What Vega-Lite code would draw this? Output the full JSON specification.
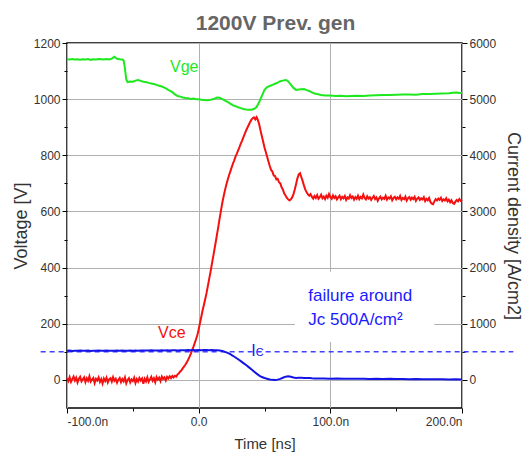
{
 "$schema": "https://vega.github.io/schema/vega-lite/v6.json",
 "width": 395,
 "height": 365,
 "autosize": {"type": "none"},
 "padding": {"left": 67, "top": 43, "right": 62, "bottom": 49},
 "background": "white",
 "config": {
  "view": {"stroke": "#000", "strokeWidth": 1.5},
  "font": "Liberation Sans",
  "axis": {"domain": false, "labelColor": "#333", "labelFontSize": 12, "labelFont": "Liberation Sans", "titleColor": "#333", "titleFont": "Liberation Sans", "titleFontWeight": "normal", "tickColor": "#000", "gridColor": "#b0b0b0", "gridWidth": 1}
 },
 "title": {"text": "1200V Prev. gen", "fontSize": 21, "fontWeight": "bold", "color": "#666", "anchor": "middle", "frame": "group", "offset": -14, "baseline": "alphabetic", "dx": 11, "font": "Liberation Sans"},
 "datasets": {
  "vge": [
   {"t":-100,"v":1142},{"t":-98,"v":1141},{"t":-96,"v":1143},{"t":-94,"v":1141},{"t":-92,"v":1142},{"t":-90,"v":1140},{"t":-88,"v":1142},{"t":-86,"v":1141},{"t":-84,"v":1143},{"t":-82,"v":1140},{"t":-80,"v":1142},{"t":-78,"v":1141},{"t":-76,"v":1143},{"t":-74,"v":1142},{"t":-72,"v":1141},{"t":-70,"v":1143},{"t":-68,"v":1141},{"t":-66,"v":1144},{"t":-65,"v":1148},{"t":-64,"v":1151},{"t":-63,"v":1147},{"t":-62,"v":1144},{"t":-60,"v":1142},{"t":-58,"v":1141},{"t":-57,"v":1138},{"t":-56,"v":1110},{"t":-55,"v":1070},{"t":-54,"v":1061},{"t":-52,"v":1063},{"t":-50,"v":1062},{"t":-48,"v":1066},{"t":-46,"v":1068},{"t":-44,"v":1065},{"t":-42,"v":1062},{"t":-40,"v":1061},{"t":-38,"v":1058},{"t":-36,"v":1056},{"t":-34,"v":1054},{"t":-32,"v":1051},{"t":-30,"v":1048},{"t":-28,"v":1045},{"t":-26,"v":1041},{"t":-24,"v":1036},{"t":-22,"v":1030},{"t":-20,"v":1025},{"t":-18,"v":1017},{"t":-16,"v":1011},{"t":-14,"v":1009},{"t":-12,"v":1006},{"t":-10,"v":1004},{"t":-8,"v":1003},{"t":-6,"v":1001},{"t":-4,"v":1002},{"t":-2,"v":1000},{"t":0,"v":1000},{"t":2,"v":998},{"t":4,"v":997},{"t":6,"v":996},{"t":8,"v":997},{"t":10,"v":999},{"t":12,"v":1002},{"t":14,"v":1006},{"t":16,"v":1005},{"t":18,"v":1000},{"t":20,"v":995},{"t":22,"v":990},{"t":24,"v":984},{"t":26,"v":978},{"t":28,"v":975},{"t":30,"v":971},{"t":32,"v":968},{"t":34,"v":965},{"t":36,"v":963},{"t":38,"v":962},{"t":40,"v":962},{"t":42,"v":965},{"t":44,"v":972},{"t":46,"v":990},{"t":48,"v":1012},{"t":50,"v":1033},{"t":52,"v":1043},{"t":54,"v":1047},{"t":56,"v":1051},{"t":58,"v":1055},{"t":60,"v":1059},{"t":62,"v":1064},{"t":64,"v":1066},{"t":66,"v":1068},{"t":67,"v":1067},{"t":68,"v":1063},{"t":70,"v":1052},{"t":72,"v":1040},{"t":74,"v":1033},{"t":76,"v":1034},{"t":78,"v":1035},{"t":80,"v":1036},{"t":82,"v":1032},{"t":84,"v":1029},{"t":86,"v":1024},{"t":88,"v":1020},{"t":90,"v":1018},{"t":93,"v":1015},{"t":96,"v":1013},{"t":100,"v":1013},{"t":104,"v":1011},{"t":108,"v":1012},{"t":112,"v":1010},{"t":116,"v":1011},{"t":120,"v":1012},{"t":125,"v":1011},{"t":130,"v":1013},{"t":135,"v":1014},{"t":140,"v":1015},{"t":145,"v":1015},{"t":150,"v":1016},{"t":155,"v":1017},{"t":160,"v":1017},{"t":165,"v":1016},{"t":170,"v":1018},{"t":175,"v":1018},{"t":180,"v":1019},{"t":185,"v":1020},{"t":190,"v":1021},{"t":193,"v":1023},{"t":196,"v":1024},{"t":198,"v":1022},{"t":200,"v":1023}
  ],
  "vce": [
   {"t":-100,"v":6},{"t":-99,"v":-4},{"t":-98,"v":10},{"t":-97,"v":-7},{"t":-96,"v":3},{"t":-95,"v":12},{"t":-94,"v":-2},{"t":-93,"v":8},{"t":-92,"v":-9},{"t":-91,"v":4},{"t":-90,"v":11},{"t":-89,"v":-5},{"t":-88,"v":2},{"t":-87,"v":9},{"t":-86,"v":-8},{"t":-85,"v":6},{"t":-84,"v":-3},{"t":-83,"v":13},{"t":-82,"v":-6},{"t":-81,"v":1},{"t":-80,"v":7},{"t":-79,"v":-11},{"t":-78,"v":4},{"t":-77,"v":-2},{"t":-76,"v":9},{"t":-75,"v":-7},{"t":-74,"v":3},{"t":-73,"v":-13},{"t":-72,"v":5},{"t":-71,"v":-4},{"t":-70,"v":8},{"t":-69,"v":-9},{"t":-68,"v":2},{"t":-67,"v":6},{"t":-66,"v":-6},{"t":-65,"v":10},{"t":-64,"v":-3},{"t":-63,"v":4},{"t":-62,"v":-10},{"t":-61,"v":1},{"t":-60,"v":7},{"t":-59,"v":-8},{"t":-58,"v":3},{"t":-57,"v":-5},{"t":-56,"v":9},{"t":-55,"v":-12},{"t":-54,"v":0},{"t":-53,"v":6},{"t":-52,"v":-9},{"t":-51,"v":2},{"t":-50,"v":-4},{"t":-49,"v":8},{"t":-48,"v":-11},{"t":-47,"v":3},{"t":-46,"v":-6},{"t":-45,"v":7},{"t":-44,"v":-2},{"t":-43,"v":5},{"t":-42,"v":-14},{"t":-41,"v":4},{"t":-40,"v":-5},{"t":-39,"v":9},{"t":-38,"v":-7},{"t":-37,"v":2},{"t":-36,"v":11},{"t":-35,"v":-3},{"t":-34,"v":6},{"t":-33,"v":-8},{"t":-32,"v":10},{"t":-31,"v":1},{"t":-30,"v":8},{"t":-29,"v":-4},{"t":-28,"v":12},{"t":-27,"v":3},{"t":-26,"v":9},{"t":-25,"v":-2},{"t":-24,"v":11},{"t":-23,"v":5},{"t":-22,"v":13},{"t":-21,"v":6},{"t":-20,"v":14},{"t":-19,"v":9},{"t":-18,"v":15},{"t":-17,"v":12},{"t":-16,"v":20},{"t":-15,"v":24},{"t":-14,"v":30},{"t":-13,"v":35},{"t":-12,"v":42},{"t":-11,"v":48},{"t":-10,"v":55},{"t":-9,"v":63},{"t":-8,"v":72},{"t":-7,"v":82},{"t":-6,"v":93},{"t":-5,"v":106},{"t":-4,"v":118},{"t":-3,"v":131},{"t":-2,"v":145},{"t":-1,"v":160},{"t":0,"v":180},{"t":1,"v":203},{"t":2,"v":225},{"t":3,"v":248},{"t":4,"v":268},{"t":5,"v":288},{"t":6,"v":310},{"t":7,"v":335},{"t":8,"v":360},{"t":9,"v":385},{"t":10,"v":412},{"t":11,"v":438},{"t":12,"v":465},{"t":13,"v":492},{"t":14,"v":520},{"t":15,"v":548},{"t":16,"v":577},{"t":17,"v":605},{"t":18,"v":632},{"t":19,"v":655},{"t":20,"v":676},{"t":21,"v":695},{"t":22,"v":712},{"t":23,"v":728},{"t":24,"v":742},{"t":25,"v":756},{"t":26,"v":770},{"t":27,"v":782},{"t":28,"v":795},{"t":29,"v":806},{"t":30,"v":818},{"t":31,"v":829},{"t":32,"v":842},{"t":33,"v":852},{"t":34,"v":865},{"t":35,"v":876},{"t":36,"v":888},{"t":37,"v":898},{"t":38,"v":908},{"t":39,"v":918},{"t":40,"v":926},{"t":41,"v":932},{"t":42,"v":935},{"t":43,"v":928},{"t":44,"v":936},{"t":45,"v":925},{"t":46,"v":910},{"t":47,"v":888},{"t":48,"v":868},{"t":49,"v":848},{"t":50,"v":828},{"t":51,"v":812},{"t":52,"v":795},{"t":53,"v":778},{"t":54,"v":762},{"t":55,"v":748},{"t":56,"v":742},{"t":57,"v":728},{"t":58,"v":726},{"t":59,"v":714},{"t":60,"v":716},{"t":61,"v":704},{"t":62,"v":700},{"t":63,"v":686},{"t":64,"v":678},{"t":65,"v":664},{"t":66,"v":657},{"t":67,"v":648},{"t":68,"v":643},{"t":69,"v":639},{"t":70,"v":643},{"t":71,"v":650},{"t":72,"v":662},{"t":73,"v":678},{"t":74,"v":698},{"t":75,"v":718},{"t":76,"v":732},{"t":77,"v":736},{"t":78,"v":722},{"t":79,"v":708},{"t":80,"v":692},{"t":81,"v":678},{"t":82,"v":668},{"t":83,"v":661},{"t":84,"v":656},{"t":85,"v":662},{"t":86,"v":652},{"t":87,"v":646},{"t":88,"v":655},{"t":89,"v":648},{"t":90,"v":658},{"t":91,"v":645},{"t":92,"v":651},{"t":93,"v":660},{"t":94,"v":647},{"t":95,"v":653},{"t":96,"v":644},{"t":97,"v":656},{"t":98,"v":649},{"t":99,"v":662},{"t":100,"v":651},{"t":101,"v":645},{"t":102,"v":657},{"t":103,"v":648},{"t":104,"v":654},{"t":105,"v":643},{"t":106,"v":650},{"t":107,"v":656},{"t":108,"v":644},{"t":109,"v":652},{"t":110,"v":647},{"t":111,"v":655},{"t":112,"v":641},{"t":113,"v":650},{"t":114,"v":646},{"t":115,"v":658},{"t":116,"v":648},{"t":117,"v":653},{"t":118,"v":642},{"t":119,"v":651},{"t":120,"v":645},{"t":121,"v":656},{"t":122,"v":644},{"t":123,"v":652},{"t":124,"v":647},{"t":125,"v":660},{"t":126,"v":648},{"t":127,"v":643},{"t":128,"v":654},{"t":129,"v":646},{"t":130,"v":651},{"t":131,"v":641},{"t":132,"v":649},{"t":133,"v":655},{"t":134,"v":644},{"t":135,"v":650},{"t":136,"v":638},{"t":137,"v":647},{"t":138,"v":653},{"t":139,"v":643},{"t":140,"v":649},{"t":141,"v":645},{"t":142,"v":656},{"t":143,"v":642},{"t":144,"v":650},{"t":145,"v":646},{"t":146,"v":654},{"t":147,"v":640},{"t":148,"v":648},{"t":149,"v":652},{"t":150,"v":643},{"t":151,"v":650},{"t":152,"v":645},{"t":153,"v":655},{"t":154,"v":641},{"t":155,"v":648},{"t":156,"v":644},{"t":157,"v":653},{"t":158,"v":639},{"t":159,"v":647},{"t":160,"v":651},{"t":161,"v":642},{"t":162,"v":649},{"t":163,"v":644},{"t":164,"v":652},{"t":165,"v":638},{"t":166,"v":646},{"t":167,"v":650},{"t":168,"v":641},{"t":169,"v":647},{"t":170,"v":643},{"t":171,"v":651},{"t":172,"v":637},{"t":173,"v":645},{"t":174,"v":640},{"t":175,"v":648},{"t":176,"v":634},{"t":177,"v":628},{"t":178,"v":626},{"t":179,"v":636},{"t":180,"v":644},{"t":181,"v":639},{"t":182,"v":646},{"t":183,"v":641},{"t":184,"v":649},{"t":185,"v":637},{"t":186,"v":643},{"t":187,"v":639},{"t":188,"v":647},{"t":189,"v":636},{"t":190,"v":642},{"t":191,"v":633},{"t":192,"v":640},{"t":193,"v":630},{"t":194,"v":627},{"t":195,"v":635},{"t":196,"v":641},{"t":197,"v":636},{"t":198,"v":644},{"t":199,"v":638},{"t":200,"v":642}
  ],
  "ic": [
   {"t":-100,"j":518},{"t":-98,"j":522},{"t":-96,"j":517},{"t":-94,"j":521},{"t":-92,"j":519},{"t":-90,"j":523},{"t":-88,"j":518},{"t":-86,"j":520},{"t":-84,"j":522},{"t":-82,"j":517},{"t":-80,"j":521},{"t":-78,"j":519},{"t":-76,"j":523},{"t":-74,"j":520},{"t":-72,"j":518},{"t":-70,"j":522},{"t":-68,"j":520},{"t":-66,"j":521},{"t":-64,"j":519},{"t":-62,"j":523},{"t":-60,"j":520},{"t":-58,"j":522},{"t":-56,"j":518},{"t":-54,"j":521},{"t":-52,"j":523},{"t":-50,"j":520},{"t":-48,"j":524},{"t":-46,"j":521},{"t":-44,"j":525},{"t":-42,"j":522},{"t":-40,"j":526},{"t":-38,"j":523},{"t":-36,"j":527},{"t":-34,"j":524},{"t":-32,"j":526},{"t":-30,"j":523},{"t":-28,"j":527},{"t":-26,"j":525},{"t":-24,"j":528},{"t":-22,"j":526},{"t":-20,"j":527},{"t":-18,"j":529},{"t":-16,"j":526},{"t":-14,"j":530},{"t":-12,"j":528},{"t":-10,"j":530},{"t":-8,"j":531},{"t":-6,"j":529},{"t":-4,"j":531},{"t":-2,"j":530},{"t":0,"j":532},{"t":2,"j":530},{"t":4,"j":532},{"t":6,"j":531},{"t":8,"j":530},{"t":10,"j":531},{"t":12,"j":529},{"t":14,"j":527},{"t":16,"j":524},{"t":18,"j":515},{"t":20,"j":500},{"t":22,"j":482},{"t":24,"j":458},{"t":26,"j":430},{"t":28,"j":400},{"t":30,"j":368},{"t":32,"j":335},{"t":34,"j":300},{"t":36,"j":265},{"t":38,"j":228},{"t":40,"j":190},{"t":42,"j":150},{"t":44,"j":112},{"t":46,"j":78},{"t":48,"j":52},{"t":50,"j":34},{"t":52,"j":20},{"t":54,"j":8},{"t":56,"j":1},{"t":58,"j":-2},{"t":60,"j":5},{"t":62,"j":18},{"t":64,"j":38},{"t":66,"j":58},{"t":68,"j":66},{"t":70,"j":55},{"t":72,"j":42},{"t":74,"j":36},{"t":76,"j":40},{"t":78,"j":38},{"t":80,"j":34},{"t":82,"j":36},{"t":84,"j":33},{"t":86,"j":28},{"t":88,"j":26},{"t":90,"j":24},{"t":95,"j":25},{"t":100,"j":22},{"t":105,"j":24},{"t":110,"j":21},{"t":115,"j":23},{"t":120,"j":20},{"t":125,"j":22},{"t":130,"j":18},{"t":135,"j":20},{"t":140,"j":17},{"t":145,"j":19},{"t":150,"j":16},{"t":155,"j":18},{"t":160,"j":14},{"t":165,"j":16},{"t":170,"j":12},{"t":175,"j":14},{"t":180,"j":10},{"t":185,"j":12},{"t":190,"j":8},{"t":195,"j":10},{"t":200,"j":6}
  ]
 },
 "layer": [
  {
   "encoding": {
    "x": {"field": "t", "type": "quantitative", "scale": {"domain": [-100, 200], "nice": false, "zero": false},
     "axis": {"title": "Time [ns]", "values": [-100, -50, 0, 50, 100, 150, 200], "labelExpr": "datum.value % 100 != 0 ? '' : (datum.value == 0 ? '0.0' : datum.value + '.0n')", "gridOpacity": {"condition": {"test": "datum.value % 100 != 0", "value": 0}, "value": 1}, "tickSize": {"condition": {"test": "datum.value % 100 != 0", "value": 3}, "value": 5}, "labelPadding": 3, "titleX": 197.5, "titleY": 35, "titleBaseline": "middle", "titleFontSize": 15}},
    "y": {"field": "v", "type": "quantitative", "scale": {"domain": [-100, 1200], "nice": false, "zero": false},
     "axis": {"orient": "left", "title": "Voltage [V]", "format": "d", "values": [0, 100, 200, 300, 400, 500, 600, 700, 800, 900, 1000, 1100, 1200], "labelExpr": "datum.value % 200 != 0 ? '' : datum.label", "gridOpacity": {"condition": {"test": "datum.value % 200 != 0", "value": 0}, "value": 1}, "tickSize": {"condition": {"test": "datum.value % 200 != 0", "value": 3}, "value": 5}, "labelPadding": 2, "titleX": -46, "titleY": 182.5, "titleAngle": -90, "titleAlign": "center", "titleBaseline": "middle", "titleFontSize": 18}}
   },
   "layer": [
    {"data": {"values": [{"t": 73, "t2": 179, "v": 385, "v2": 135}]}, "mark": {"type": "rect", "fill": "white", "stroke": null}, "encoding": {"x2": {"field": "t2"}, "y2": {"field": "v2"}}},
    {"data": {"name": "vge"}, "mark": {"type": "line", "color": "#1ee81e", "strokeWidth": 2}},
    {"data": {"name": "vce"}, "mark": {"type": "line", "color": "#f51010", "strokeWidth": 2}},
    {"data": {"values": [{"t": -21.8, "v": 1098, "label": "Vge"}]}, "mark": {"type": "text", "color": "#1ee81e", "fontSize": 16, "align": "left", "baseline": "alphabetic", "font": "Liberation Sans"}, "encoding": {"text": {"field": "label"}}},
    {"data": {"values": [{"t": -30.9, "v": 150, "label": "Vce"}]}, "mark": {"type": "text", "color": "#f51010", "fontSize": 16, "align": "left", "baseline": "alphabetic", "font": "Liberation Sans"}, "encoding": {"text": {"field": "label"}}},
    {"data": {"values": [{"t": 40, "v": 86, "label": "I"}]}, "mark": {"type": "text", "color": "#1414e6", "fontSize": 16, "align": "left", "baseline": "alphabetic", "font": "Liberation Sans"}, "encoding": {"text": {"field": "label"}}},
    {"data": {"values": [{"t": 43.3, "v": 86, "label": "C"}]}, "mark": {"type": "text", "color": "#1414e6", "fontSize": 11, "align": "left", "baseline": "alphabetic", "font": "Liberation Sans"}, "encoding": {"text": {"field": "label"}}},
    {"data": {"values": [{"t": 83.2, "v": 281, "label": "failure around"}, {"t": 83.2, "v": 196, "label": "Jc 500A/cm²"}]}, "mark": {"type": "text", "color": "#1a1aff", "fontSize": 17, "align": "left", "baseline": "alphabetic", "font": "Liberation Sans"}, "encoding": {"text": {"field": "label"}}}
   ]
  },
  {
   "encoding": {
    "x": {"field": "t", "type": "quantitative", "scale": {"domain": [-100, 200], "nice": false, "zero": false},
     "axis": {"title": "Time [ns]", "values": [-100, -50, 0, 50, 100, 150, 200], "labelExpr": "datum.value % 100 != 0 ? '' : (datum.value == 0 ? '0.0' : datum.value + '.0n')", "gridOpacity": {"condition": {"test": "datum.value % 100 != 0", "value": 0}, "value": 1}, "tickSize": {"condition": {"test": "datum.value % 100 != 0", "value": 3}, "value": 5}, "labelPadding": 3, "titleX": 197.5, "titleY": 35, "titleBaseline": "middle", "titleFontSize": 15}},
    "y": {"field": "j", "type": "quantitative", "scale": {"domain": [-500, 6000], "nice": false, "zero": false},
     "axis": {"orient": "right", "title": "Current density [A/cm2]", "format": "d", "grid": false, "values": [0, 500, 1000, 1500, 2000, 2500, 3000, 3500, 4000, 4500, 5000, 5500, 6000], "labelExpr": "datum.value % 1000 != 0 ? '' : datum.label", "tickSize": {"condition": {"test": "datum.value % 1000 != 0", "value": 3}, "value": 5}, "labelPadding": 2, "titleX": 50.5, "titleY": 182.5, "titleAngle": 90, "titleAlign": "center", "titleBaseline": "middle", "titleFontSize": 18}}
   },
   "layer": [
    {"data": {"values": [{"t": -120, "t2": 239, "j": 500}]}, "mark": {"type": "rule", "color": "#4040ff", "strokeWidth": 1.5, "strokeDash": [5, 4], "clip": false}, "encoding": {"x2": {"field": "t2"}}},
    {"data": {"name": "ic"}, "mark": {"type": "line", "color": "#1414e6", "strokeWidth": 2}}
   ]
  }
 ],
 "resolve": {"scale": {"y": "independent"}}
}
